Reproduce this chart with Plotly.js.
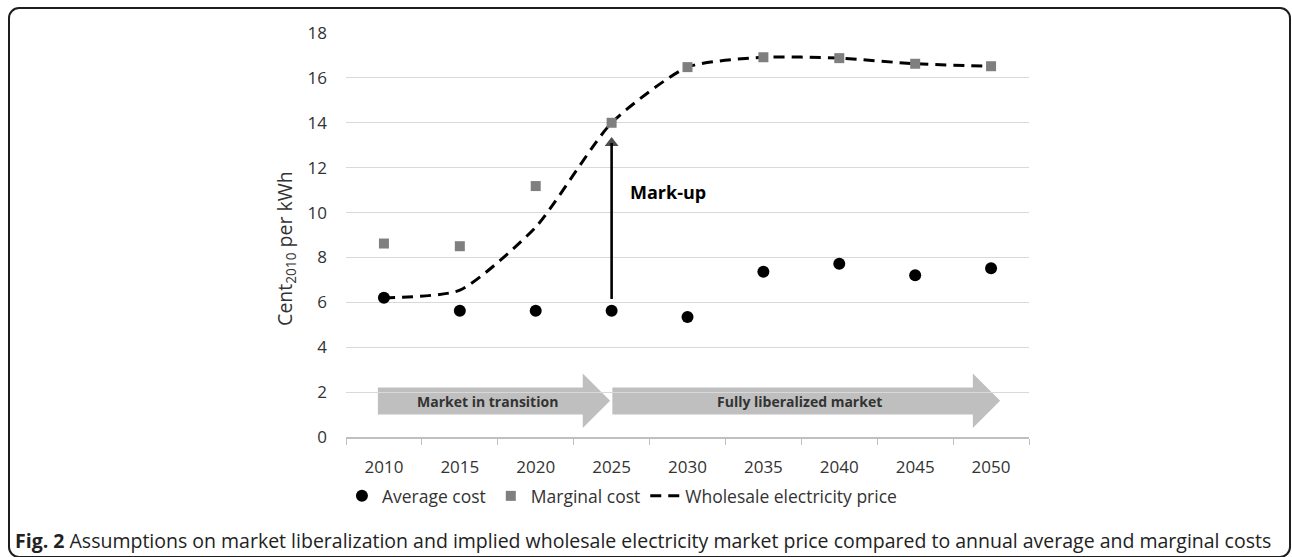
<!DOCTYPE html>
<html>
<head>
<meta charset="utf-8">
<script src="https://cdn.plot.ly/plotly-3.0.1.min.js"></script>
<style>
  html, body { margin: 0; padding: 0; background: #fff; }
  #wrap { position: relative; width: 1292px; height: 557px; overflow: hidden; }
  #chart { width: 1292px; height: 557px; }
  #frame { position: absolute; left: 8px; top: 7px; width: 1279px; height: 547px;
           border: 2px solid #1e1e1e; border-radius: 11px; pointer-events: none; }
</style>
</head>
<body>
<div id="wrap">
  <div id="chart"></div>
  <div id="frame"></div>
</div>
<script>
// ---- data ----
const years = ["2010", "2015", "2020", "2025", "2030", "2035", "2040", "2045", "2050"];
const averageCost = [6.2, 5.63, 5.63, 5.63, 5.35, 7.36, 7.72, 7.21, 7.52];
const marginalCost = [8.62, 8.5, 11.18, 14.0, 16.48, 16.92, 16.88, 16.63, 16.52];
const wholesalePrice = [6.2, 6.54, 9.35, 14.0, 16.48, 16.92, 16.88, 16.63, 16.52];
const yTicks = [0, 2, 4, 6, 8, 10, 12, 14, 16, 18];
const markupYear = ["2025", "2025"];
const markupRange = [6.15, 13.1];   // mark-up arrow: from average cost up to the price
const phases = ["Market in transition", "Fully liberalized market"];

// ---- layout helpers ----
const FONT = "Open Sans, Noto Sans, sans-serif";
const TXT = "#333333";
const BAND = "#bfbfbf";

function arrowPath(x0, xh, xt, yb0, yb1, yh0, yh1) {
  const yc = (yh0 + yh1) / 2;
  return `M ${x0},${yb0} L ${xh},${yb0} L ${xh},${yh0} L ${xt},${yc} L ${xh},${yh1} L ${xh},${yb1} L ${x0},${yb1} Z`;
}

const traces = [
  {
    x: years, y: wholesalePrice, name: "Wholesale electricity price",
    type: "scatter", mode: "lines",
    line: { color: "#000", width: 3, dash: "11px,7px", shape: "spline", smoothing: 0.6 },
    legendrank: 3
  },
  {
    x: markupYear, y: markupRange, name: "Mark-up",
    type: "scatter", mode: "lines+markers", showlegend: false, hoverinfo: "skip",
    line: { color: "#000", width: 2.6 },
    marker: { symbol: ["line-ew", "triangle-up"], size: [0, 12], color: "#000", line: { width: 0 } }
  },
  {
    x: years, y: averageCost, name: "Average cost",
    type: "scatter", mode: "markers",
    marker: { symbol: "circle", color: "#000", size: 12 },
    legendrank: 1
  },
  {
    x: years, y: marginalCost, name: "Marginal cost",
    type: "scatter", mode: "markers",
    marker: { symbol: "square", color: "#7f7f7f", size: 10 },
    legendrank: 2
  }
];

const layout = {
  width: 1292, height: 557,
  margin: { l: 346, r: 263, t: 33, b: 120 },
  paper_bgcolor: "#fff", plot_bgcolor: "#fff",
  font: { family: FONT, size: 16, color: TXT },
  showlegend: true,
  legend: {
    orientation: "h", x: 0.404, xanchor: "center", y: -0.146, yanchor: "middle",
    font: { family: FONT, size: 17.5, color: TXT }, itemwidth: 30,
    traceorder: "normal"
  },
  xaxis: {
    type: "category", range: [-0.5, 8.5],
    showgrid: false, zeroline: false,
    showline: true, linecolor: "#bfbfbf", linewidth: 1.5,
    ticks: "outside", ticklen: 6, tickcolor: "#bfbfbf", tickson: "boundaries",
    tickfont: { family: FONT, size: 17, color: TXT },
    ticklabelstandoff: 14, fixedrange: true
  },
  yaxis: {
    range: [0, 18], tickvals: yTicks, ticktext: yTicks.map(String),
    showgrid: true, gridcolor: "#d9d9d9", gridwidth: 1,
    zeroline: false, showline: false, ticks: "",
    tickfont: { family: FONT, size: 17, color: TXT },
    ticklabelstandoff: 18, fixedrange: true
  },
  shapes: [
    { type: "path", xref: "x", yref: "y", layer: "below", line: { width: 0 }, fillcolor: BAND,
      path: arrowPath(-0.08, 2.62, 2.98, 1.0, 2.2, 0.4, 2.83) },
    { type: "path", xref: "x", yref: "y", layer: "below", line: { width: 0 }, fillcolor: BAND,
      path: arrowPath(3.01, 7.76, 8.12, 1.0, 2.2, 0.4, 2.83) }
  ],
  annotations: [
    { xref: "x", yref: "y", x: 3.215, y: 10.92, xanchor: "left", yanchor: "middle", showarrow: false,
      text: "<b>Mark-up</b>", font: { family: FONT, size: 18, color: "#000" } },
    { xref: "x", yref: "y", x: 1.358, y: 1.6, xanchor: "center", yanchor: "middle", showarrow: false,
      text: "<b>" + phases[0] + "</b>", font: { family: FONT, size: 14, color: TXT } },
    { xref: "x", yref: "y", x: 5.48, y: 1.6, xanchor: "center", yanchor: "middle", showarrow: false,
      text: "<b>" + phases[1] + "</b>", font: { family: FONT, size: 14, color: TXT } },
    { xref: "paper", yref: "paper", x: -0.0879, y: 0.468, xanchor: "center", yanchor: "middle",
      textangle: -90, showarrow: false,
      text: "Cent<sub>2010</sub> per kWh", font: { family: FONT, size: 19.5, color: TXT } },
    { xref: "paper", yref: "paper", x: -0.4876, y: -0.255, xanchor: "left", yanchor: "middle",
      showarrow: false,
      text: "<b>Fig. 2</b> Assumptions on market liberalization and implied wholesale electricity market price compared to annual average and marginal costs",
      font: { family: FONT, size: 19.5, color: "#222" } }
  ]
};

Plotly.newPlot("chart", traces, layout, { displayModeBar: false, staticPlot: true });
</script>
</body>
</html>
